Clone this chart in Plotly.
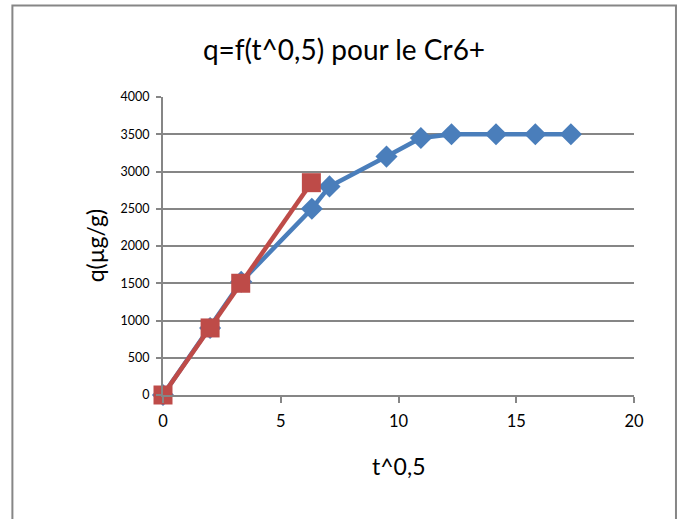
import plotly.graph_objects as go

# Series: q (µg/g) versus square root of time
t_sqrt_blue = [0, 2, 3.32, 6.32, 7.07, 9.49, 10.95, 12.25, 14.14, 15.81, 17.32]
q_blue = [0, 900, 1520, 2500, 2800, 3200, 3450, 3500, 3500, 3500, 3500]

t_sqrt_red = [0, 2, 3.3, 6.3]
q_red = [0, 900, 1500, 2850]

x_ticks = [0, 5, 10, 15, 20]
y_ticks = [0, 500, 1000, 1500, 2000, 2500, 3000, 3500, 4000]

FONT = "Lato"
GRID = "#868686"

fig = go.Figure()
fig.add_trace(go.Scatter(
    x=t_sqrt_blue, y=q_blue, mode="lines+markers",
    line=dict(color="#4A7EBB", width=4.5),
    marker=dict(symbol="diamond", size=17, color="#4A7EBB"),
    cliponaxis=False, showlegend=False,
))
fig.add_trace(go.Scatter(
    x=t_sqrt_red, y=q_red, mode="lines+markers",
    line=dict(color="#BE4B48", width=4.5),
    marker=dict(symbol="square", size=19, color="#BE4B48"),
    cliponaxis=False, showlegend=False,
))

# Plot area: left 162.7px, right 634px, top 96.7px, bottom 395px
L, R, T, B = 162.7, 634.0, 96.7, 395.0
W, H = 682, 519
pw, ph = R - L, B - T

def px_x(p):
    return (p - L) / pw

def px_y(p):
    return (B - p) / ph

fig.update_layout(
    width=W, height=H,
    margin=dict(l=L, r=W - R, t=T, b=H - B, pad=0),
    paper_bgcolor="white", plot_bgcolor="white",
    font=dict(family=FONT, color="#000000"),
    title=dict(text="q=f(t^0,5) pour le Cr6+", x=344 / W, xref="container",
               xanchor="center", y=1 - 50 / H, yref="container", yanchor="middle",
               font=dict(size=28, family=FONT)),
    xaxis=dict(
        range=[0, 20], tickvals=x_ticks, showgrid=False, zeroline=False,
        showline=True, linecolor=GRID, linewidth=2,
        ticks="outside", ticklen=6, tickwidth=2, tickcolor=GRID,
        tickfont=dict(size=16.5, family=FONT), ticklabelstandoff=4,
    ),
    yaxis=dict(
        range=[0, 4000], tickvals=y_ticks, showgrid=True, gridcolor=GRID,
        gridwidth=2, zeroline=False, showline=True, linecolor=GRID, linewidth=2,
        ticks="outside", ticklen=5, tickwidth=2, tickcolor=GRID,
        tickfont=dict(size=12.5, family=FONT), ticklabelstandoff=4,
    ),
    annotations=[
        dict(text="t^0,5", xref="paper", yref="paper", x=0.5, y=px_y(466),
             xanchor="center", yanchor="middle", showarrow=False,
             font=dict(size=23, family=FONT)),
        dict(text="q(µg/g)", xref="paper", yref="paper", x=px_x(95), y=0.5,
             xanchor="center", yanchor="middle", showarrow=False, textangle=-90,
             font=dict(size=23, family=FONT)),
    ],
    shapes=[
        dict(type="rect", xref="paper", yref="paper",
             x0=px_x(12), x1=px_x(676), y0=px_y(530), y1=px_y(5),
             line=dict(color=GRID, width=2), layer="below"),
    ],
)

fig.write_html("out.html")
